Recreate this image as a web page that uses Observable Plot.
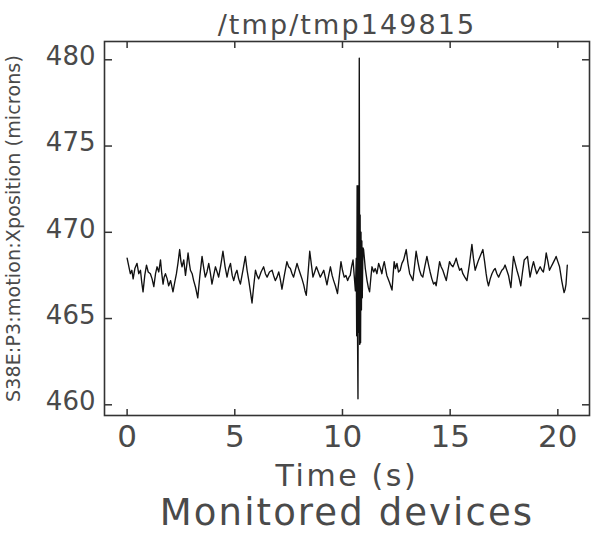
<!DOCTYPE html>
<html><head><meta charset="utf-8">
<script src="https://cdn.jsdelivr.net/npm/d3@7"></script>
<script src="https://cdn.jsdelivr.net/npm/@observablehq/plot@0.6"></script>
<style>
html,body{margin:0;padding:0;background:#fff;}
</style></head><body><div id="chart"></div>
<script>
const chartTitle = "/tmp/tmp149815";
const xLabel = "Time (s)";
const yLabel = "S38E:P3:motion:Xposition (microns)";
const caption = "Monitored devices";
const xTicks = [0, 5, 10, 15, 20];
const yTicks = [460, 465, 470, 475, 480];

const time = [
  0.00,0.05,0.10,0.15,0.22,0.28,0.36,0.46,0.54,0.62,0.68,0.74,0.82,0.90,0.98,1.08,1.16,1.24,1.32,1.39,
  1.47,1.55,1.61,1.67,1.72,1.78,1.86,1.93,2.02,2.13,2.21,2.29,2.36,2.44,2.50,2.55,2.63,2.71,2.77,2.83,
  2.89,2.94,3.02,3.09,3.18,3.28,3.38,3.48,3.55,3.63,3.71,3.79,3.87,3.94,4.02,4.10,4.18,4.25,4.35,4.45,
  4.55,4.64,4.72,4.80,4.88,4.95,5.03,5.10,5.18,5.26,5.38,5.49,5.57,5.65,5.72,5.80,5.88,5.96,6.03,6.11,
  6.22,6.34,6.42,6.50,6.61,6.73,6.80,6.88,6.96,7.04,7.11,7.19,7.30,7.42,7.50,7.58,7.66,7.73,7.81,7.89,
  7.96,8.04,8.12,8.20,8.26,8.32,8.40,8.48,8.56,8.63,8.71,8.79,8.88,8.97,9.05,9.13,9.20,9.28,9.36,9.44,
  9.52,9.59,9.67,9.77,9.85,9.93,10.00,10.08,10.16,10.24,10.30,10.36,10.42,10.49,10.55,10.60,
  10.64,10.66,10.68,10.70,10.72,10.74,10.76,10.78,10.80,10.82,10.84,10.86,10.88,10.90,10.92,10.95,
  10.98,11.06,11.14,11.20,11.26,11.32,11.37,11.45,11.52,11.60,11.68,11.76,11.83,11.88,11.94,12.00,
  12.06,12.18,12.30,12.35,12.40,12.46,12.53,12.60,12.68,12.76,12.84,12.90,12.96,13.04,13.12,13.20,
  13.27,13.35,13.42,13.50,13.58,13.66,13.73,13.82,13.92,14.00,14.07,14.15,14.23,14.30,14.35,14.43,
  14.51,14.58,14.66,14.74,14.82,14.90,14.97,15.05,15.13,15.20,15.28,15.36,15.44,15.52,15.59,15.68,
  15.78,15.90,16.01,16.08,16.16,16.24,16.32,16.42,16.52,16.60,16.67,16.72,16.78,16.86,16.94,17.02,
  17.09,17.17,17.25,17.32,17.40,17.48,17.55,17.63,17.71,17.77,17.82,17.88,17.94,18.02,18.10,18.19,
  18.28,18.36,18.44,18.52,18.59,18.65,18.71,18.79,18.87,18.95,19.02,19.10,19.18,19.26,19.33,19.40,
  19.46,19.54,19.61,19.69,19.77,19.85,19.92,20.00,20.08,20.13,20.18,20.24,20.29,20.34,20.38,20.44
];
const xposition = [
  468.5,468.2,467.9,467.6,467.8,467.3,467.9,468.2,467.6,467.8,467.1,466.55,467.5,468.1,467.7,467.6,467.3,466.85,467.6,468.0,
  467.7,468.4,467.6,467.0,467.4,467.6,467.3,466.9,467.2,466.55,467.1,467.6,468.2,469.0,468.3,468.0,468.4,467.5,468.1,468.8,
  468.2,467.8,467.6,467.2,466.8,466.2,467.5,468.6,468.0,467.4,467.7,468.2,467.6,467.0,467.5,468.0,467.7,467.4,468.1,468.9,
  468.0,467.4,467.9,468.2,467.5,467.2,467.6,467.8,467.3,467.0,467.8,468.6,467.8,467.2,466.6,465.9,466.9,467.8,467.5,467.3,
  467.7,468.0,467.6,467.4,467.7,467.8,467.5,467.2,467.4,467.7,467.3,466.7,467.5,468.3,468.0,467.9,467.6,467.4,467.8,468.2,
  467.9,467.6,467.3,466.95,466.6,466.35,467.6,468.9,468.1,467.4,467.7,468.0,467.7,467.4,467.6,467.8,467.4,466.95,467.5,468.0,
  467.5,467.2,466.9,466.45,467.4,468.3,467.8,467.4,467.5,467.2,467.4,467.5,468.0,468.4,467.4,466.6,
  468.5,464.0,472.7,463.8,460.35,472.7,464.2,480.1,463.5,471.0,463.6,470.0,465.5,469.5,466.2,469.1,
  469.0,467.9,467.2,466.8,466.55,467.4,468.0,467.7,467.9,467.6,468.2,467.9,467.6,468.0,468.3,467.9,
  467.5,467.1,466.65,467.5,468.3,467.9,468.2,467.7,467.8,468.2,468.4,468.7,469.0,468.2,467.6,467.4,
  467.2,468.1,468.9,468.3,467.8,467.5,467.4,468.0,468.6,468.1,467.7,467.3,467.0,467.1,466.9,467.6,
  468.3,468.0,467.8,467.5,467.2,467.8,468.3,468.1,468.0,468.2,468.5,468.1,467.8,467.9,467.6,467.4,
  467.2,468.2,469.3,468.5,467.8,468.1,468.4,468.7,469.0,468.3,467.6,467.2,466.9,467.3,467.6,467.8,
  467.9,467.6,467.4,467.6,467.8,467.9,468.1,467.8,467.5,467.1,466.8,467.7,468.6,468.2,467.8,467.4,
  466.9,467.7,468.4,468.5,468.6,468.0,467.4,467.9,468.3,467.9,467.6,467.8,468.0,467.8,467.7,468.2,
  468.8,468.3,467.8,468.0,468.2,468.4,468.6,468.3,468.0,467.6,467.2,466.8,466.5,466.7,467.0,468.1
];

const rows = time.map((t, i) => ({time: t, xposition: xposition[i]}));
const font = "'DejaVu Sans', 'Liberation Sans', sans-serif";
const ink = "#4a4a4a";
const tickStyle = {tickSize: 7, fill: "none", stroke: "#333", strokeWidth: 1.5};

const chart = Plot.plot({
  width: 591,
  height: 533,
  marginLeft: 104,
  marginRight: 2,
  marginTop: 41,
  marginBottom: 118,
  x: {domain: [-1.05, 21.47]},
  y: {domain: [459.38, 481.06]},
  style: {fontFamily: font, background: "#fff", color: ink},
  marks: [
    Plot.line(rows, {x: "time", y: "xposition", stroke: "#111", strokeWidth: 1.35}),
    Plot.frame({stroke: "#333", strokeWidth: 1.6}),
    // inward ticks on all four sides
    Plot.axisX(xTicks, {anchor: "top", frameAnchor: "bottom", ...tickStyle}),
    Plot.axisX(xTicks, {anchor: "bottom", frameAnchor: "top", ...tickStyle}),
    Plot.axisY(yTicks, {anchor: "right", frameAnchor: "left", ...tickStyle}),
    Plot.axisY(yTicks, {anchor: "left", frameAnchor: "right", ...tickStyle}),
    // tick labels
    Plot.axisX(xTicks, {anchor: "bottom", tickSize: 0, tickPadding: 9, fontSize: 31, fill: ink, label: null}),
    Plot.axisY(yTicks, {anchor: "left", tickSize: 0, tickPadding: 9, fontSize: 26, fill: ink, dy: -3, label: null}),
    // titles
    Plot.text([chartTitle], {text: d => d, frameAnchor: "top", lineAnchor: "bottom", dy: -8, fontSize: 27, fill: ink}),
    Plot.text([xLabel], {text: d => d, frameAnchor: "bottom", lineAnchor: "bottom", dy: 70, fontSize: 30, fill: ink}),
    Plot.text([caption], {text: d => d, frameAnchor: "bottom", lineAnchor: "bottom", dy: 109, fontSize: 37, fill: ink}),
    Plot.text([yLabel], {text: d => d, frameAnchor: "left", textAnchor: "middle", rotate: -90, dx: -91, fontSize: 19, fill: ink})
  ]
});
document.getElementById("chart").appendChild(chart);

// wide letter spacing of the original plotting font
const spacing = new Map([[chartTitle, 2.1], [xLabel, 2.6], [caption, 2.1], [yLabel, 0.15]]);
d3.select(chart).selectAll("text").each(function() {
  const s = spacing.get(this.textContent);
  if (s != null) this.setAttribute("letter-spacing", s);
});
</script>
</body></html>
